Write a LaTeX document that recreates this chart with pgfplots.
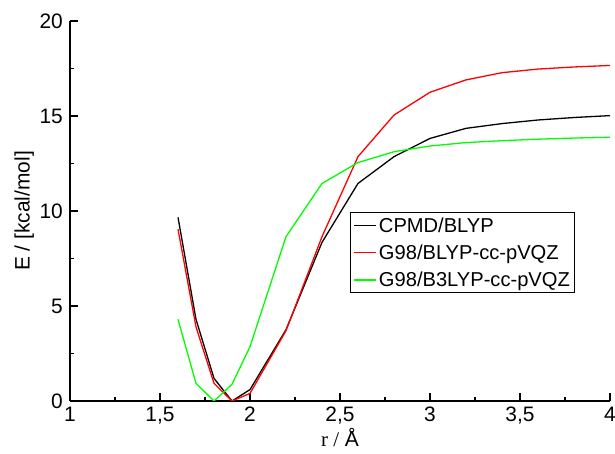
\documentclass[border=0pt]{standalone}
\usepackage{fontspec}
\setmainfont{Liberation Sans}
\newfontfamily\serif{Liberation Serif}
\usepackage{pgfplots}
\pgfplotsset{compat=1.18}
\begin{document}
\begin{tikzpicture}
\begin{axis}[
    scale only axis,
    width=540bp, height=380bp,
    xmin=1, xmax=4, ymin=0, ymax=20,
    axis lines*=left,
    axis line style={line width=1.4bp},
    tick align=inside,
    major tick length=8bp,
    minor tick length=4bp,
    tick style={line width=1.2bp, black},
    xtick={1,1.5,...,4}, ytick={0,5,...,20},
    minor x tick num=1, minor y tick num=1,
    /pgf/number format/assume math mode=true,
    /pgf/number format/use comma,
    tick label style={font=\fontsize{21}{23}\selectfont},
    label style={font=\fontsize{21}{23}\selectfont},
    xticklabel style={inner sep=0bp, yshift=-6bp},
    yticklabel style={inner sep=0bp, xshift=-7bp},
    xlabel={{\serif r /} Å},
    ylabel={E / [kcal/mol]},
    xlabel style={yshift=0bp},
    ylabel style={yshift=2bp},
    legend style={at={(0.5185,0.497)}, anchor=north west, draw=black, line width=1bp,
        font=\fontsize{20.2}{22}\selectfont, inner xsep=3bp, inner ysep=3bp, row sep=7bp},
    legend cell align=left,
    legend image code/.code={\draw[#1, line width=1.5bp] (3bp,0bp) -- (25bp,0bp);},
]
\addplot[black, line width=1.3bp] coordinates {
(1.6,9.67) (1.7,4.3) (1.8,1.19) (1.9,0.0) (2.0,0.6) (2.2,3.75) (2.4,8.35) (2.6,11.45)
(2.8,12.86) (3.0,13.82) (3.2,14.35) (3.4,14.6) (3.6,14.79) (3.8,14.92) (4.0,15.02)};
\addplot[red, line width=1.3bp] coordinates {
(1.6,9.04) (1.7,3.9) (1.8,0.93) (1.9,0.0) (2.0,0.4) (2.2,3.7) (2.4,8.65) (2.6,12.86)
(2.8,15.05) (3.0,16.25) (3.2,16.9) (3.4,17.28) (3.6,17.47) (3.8,17.58) (4.0,17.66)};
\addplot[green, line width=1.3bp] coordinates {
(1.6,4.3) (1.7,0.93) (1.8,0.0) (1.9,0.88) (2.0,2.86) (2.2,8.65) (2.4,11.45) (2.6,12.55)
(2.8,13.12) (3.0,13.42) (3.2,13.6) (3.4,13.7) (3.6,13.78) (3.8,13.84) (4.0,13.88)};
\legend{CPMD/BLYP, G98/BLYP-cc-pVQZ, G98/B3LYP-cc-pVQZ}
\end{axis}
\pgfresetboundingbox
\path[use as bounding box] (-70bp,-53bp) rectangle (545bp,401bp);
\end{tikzpicture}
\end{document}
